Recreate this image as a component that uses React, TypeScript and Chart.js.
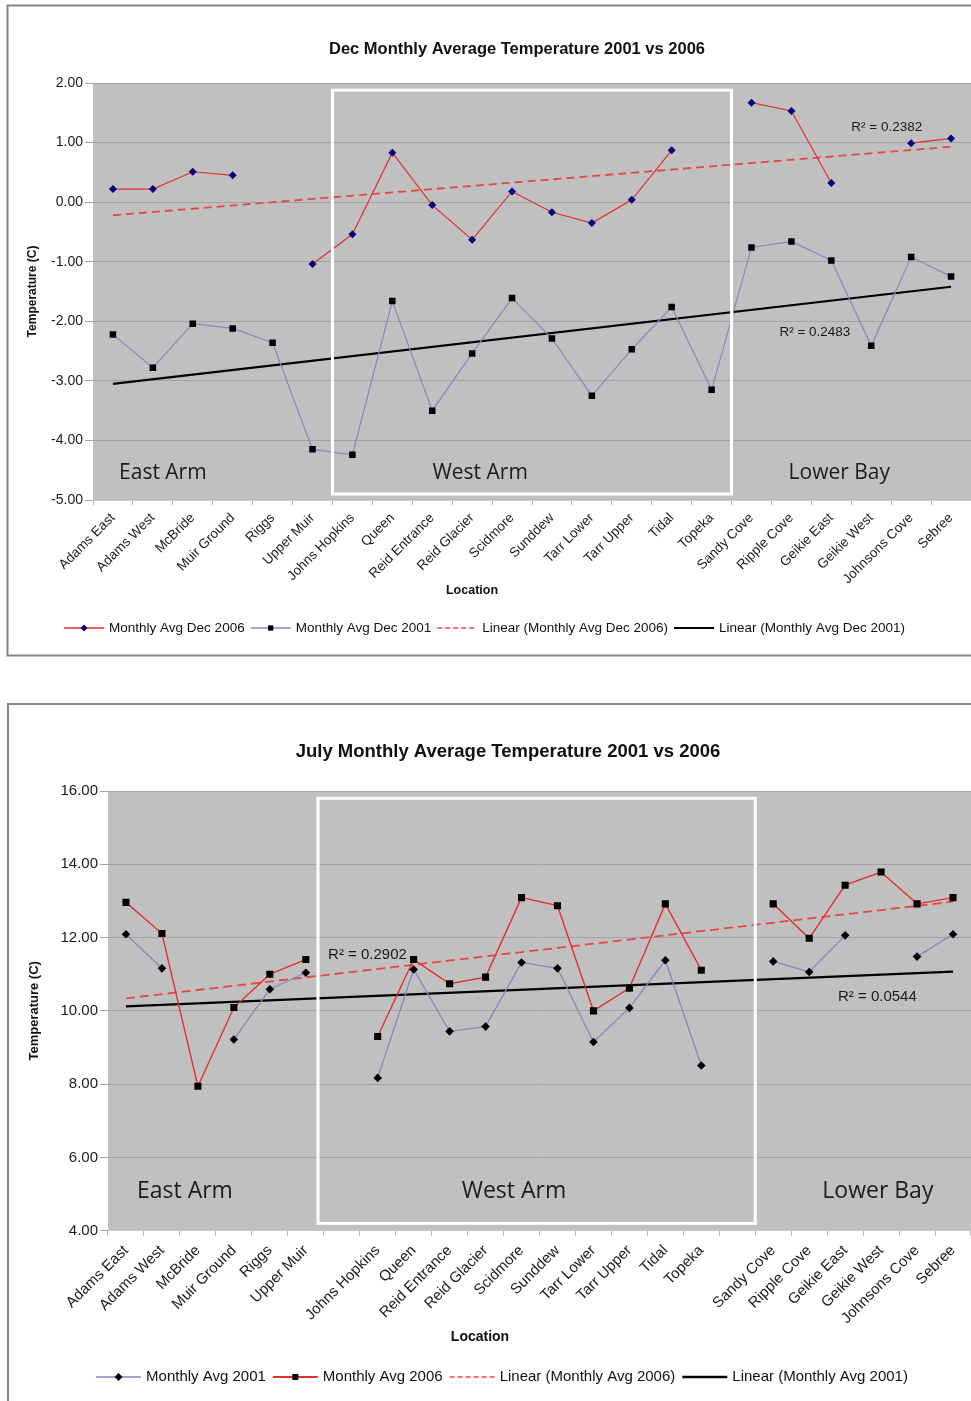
import { useEffect, useRef } from 'react';
import { Chart, registerables } from 'chart.js';

Chart.register(...registerables);

// ---------------- DATA ----------------
const decLocations = [
  'Adams East', 'Adams West', 'McBride', 'Muir Ground', 'Riggs', 'Upper Muir',
  'Johns Hopkins', 'Queen', 'Reid Entrance', 'Reid Glacier', 'Scidmore', 'Sunddew',
  'Tarr Lower', 'Tarr Upper', 'Tidal', 'Topeka', 'Sandy Cove', 'Ripple Cove',
  'Geikie East', 'Geikie West', 'Johnsons Cove', 'Sebree',
];
const decAvg2006 = [0.22, 0.22, 0.51, 0.45, null, -1.04, -0.54, 0.83, -0.05, -0.63, 0.18, -0.17, -0.35, 0.04, 0.87, null, 1.67, 1.53, 0.32, null, 0.99, 1.07];
const decAvg2001 = [-2.22, -2.78, -2.04, -2.12, -2.36, -4.15, -4.24, -1.66, -3.5, -2.54, -1.61, -2.29, -3.25, -2.47, -1.76, -3.15, -0.76, -0.66, -0.98, -2.41, -0.92, -1.25];
const decTrend2006Ends = [-0.22, 0.93];
const decTrend2001Ends = [-3.05, -1.42];
const decR2 = ['R² = 0.2382', 'R² = 0.2483'];
const decYRange = [-5, 2, 1];

const julyLocations = [
  'Adams East', 'Adams West', 'McBride', 'Muir Ground', 'Riggs', 'Upper Muir', '',
  'Johns Hopkins', 'Queen', 'Reid Entrance', 'Reid Glacier', 'Scidmore', 'Sunddew',
  'Tarr Lower', 'Tarr Upper', 'Tidal', 'Topeka', '', 'Sandy Cove', 'Ripple Cove',
  'Geikie East', 'Geikie West', 'Johnsons Cove', 'Sebree',
];
const julyAvg2001 = [12.09, 11.16, null, 9.22, 10.59, 11.04, null, 8.17, 11.13, 9.44, 9.57, 11.32, 11.16, 9.15, 10.08, 11.38, 8.51, null, 11.35, 11.06, 12.06, null, 11.48, 12.09];
const julyAvg2006 = [12.96, 12.11, 7.94, 10.09, 11.0, 11.4, null, 9.3, 11.4, 10.74, 10.92, 13.09, 12.87, 10.0, 10.62, 12.92, 11.11, null, 12.92, 11.98, 13.43, 13.79, 12.92, 13.09];
const julyTrend2006Ends = [10.34, 12.98];
const julyTrend2001Ends = [10.12, 11.07];
const julyR2 = ['R² = 0.2902', 'R² = 0.0544'];
const julyYRange = [4, 16, 2];

const regionNames = ['East Arm', 'West Arm', 'Lower Bay'];

// ---------------- STYLE ----------------
const SANS = '"Liberation Sans", Arial, sans-serif';
const RED = '#e3302f';
const BLUE = '#8686c6';
const NAVY = '#000080';

type LegendItem = { label: string; color: string; width: number; dash?: number[]; marker?: 'diamond' | 'square'; markerColor?: string; markerSize?: number };

function drawMarker(ctx: CanvasRenderingContext2D, kind: string, x: number, y: number, s: number, color: string) {
  ctx.fillStyle = color;
  ctx.beginPath();
  if (kind === 'diamond') {
    ctx.moveTo(x, y - s);
    ctx.lineTo(x + s, y);
    ctx.lineTo(x, y + s);
    ctx.lineTo(x - s, y);
    ctx.closePath();
  } else {
    ctx.rect(x - s * 0.75, y - s * 0.75, s * 1.5, s * 1.5);
  }
  ctx.fill();
}

function makeSpec(kind: 'dec' | 'july') {
  if (kind === 'dec') {
    const labels = decLocations;
    const last = labels[labels.length - 1];
    return {
      height: 660,
      plotTop: 83,
      plotLeft: 93,
      xHeight: 90,
      padBottom: 70,
      yMin: decYRange[0], yMax: decYRange[1], yStep: decYRange[2],
      labels,
      datasets: [
        { label: 'Monthly Avg Dec 2006', data: decAvg2006, borderColor: RED, borderWidth: 1.2, pointStyle: 'rectRot', pointRadius: 4, pointBackgroundColor: NAVY, pointBorderColor: NAVY, pointBorderWidth: 0 },
        { label: 'Monthly Avg Dec 2001', data: decAvg2001, borderColor: BLUE, borderWidth: 1.2, pointStyle: 'rect', pointRadius: 4.6, pointBackgroundColor: '#000', pointBorderColor: '#000', pointBorderWidth: 0 },
        { label: 'Linear (Monthly Avg Dec 2006)', data: [{ x: labels[0], y: decTrend2006Ends[0] }, { x: last, y: decTrend2006Ends[1] }], borderColor: '#e84545', borderWidth: 1.8, borderDash: [8, 5], pointRadius: 0 },
        { label: 'Linear (Monthly Avg Dec 2001)', data: [{ x: labels[0], y: decTrend2001Ends[0] }, { x: last, y: decTrend2001Ends[1] }], borderColor: '#000', borderWidth: 2.2, pointRadius: 0 },
      ],
      tickFont: 14, xTickFont: 13.5, xTickPad: 5,
      yTitle: 'Temperature (C)', yTitleFont: 12, yTitlePad: 25,
      box: { x: 7.5, y: 5.5, w: 980, h: 650 },
      title: { text: 'Dec Monthly Average Temperature 2001 vs 2006', x: 517, y: 49, size: 16.5 },
      xTitle: { text: 'Location', x: 472, y: 591, size: 12.5 },
      rect: { x0: 5.5, x1: 15.5, y0: 1.88, y1: -4.9 },
      regions: [
        { text: regionNames[0], x: 1.25, y: -4.54 },
        { text: regionNames[1], x: 9.2, y: -4.54 },
        { text: regionNames[2], x: 18.2, y: -4.54 },
      ],
      regionFont: 21,
      r2: [
        { text: decR2[0], x: 18.5, y: 1.25 },
        { text: decR2[1], x: 16.7, y: -2.19 },
      ],
      r2Font: 13.5,
      legend: {
        cx: 484.5, y: 628, size: 13.5, lineLen: 40, gap: 5, itemGap: 6,
        items: [
          { label: 'Monthly Avg Dec 2006', color: RED, width: 1.5, marker: 'diamond', markerColor: NAVY, markerSize: 3.5 },
          { label: 'Monthly Avg Dec 2001', color: BLUE, width: 1.5, marker: 'square', markerColor: '#000', markerSize: 3.5 },
          { label: 'Linear (Monthly Avg Dec 2006)', color: '#e84545', width: 1.5, dash: [5, 3] },
          { label: 'Linear (Monthly Avg Dec 2001)', color: '#000', width: 2.2 },
        ] as LegendItem[],
      },
    };
  }
  const labels = julyLocations;
  const last = labels[labels.length - 1];
  return {
    height: 703,
    plotTop: 93,
    plotLeft: 108,
    xHeight: 100,
    padBottom: 70.3,
    yMin: julyYRange[0], yMax: julyYRange[1], yStep: julyYRange[2],
    labels,
    datasets: [
      { label: 'Monthly Avg 2001', data: julyAvg2001, borderColor: BLUE, borderWidth: 1.3, pointStyle: 'rectRot', pointRadius: 4.3, pointBackgroundColor: '#000', pointBorderColor: '#000', pointBorderWidth: 0 },
      { label: 'Monthly Avg 2006', data: julyAvg2006, borderColor: RED, borderWidth: 1.4, pointStyle: 'rect', pointRadius: 5, pointBackgroundColor: '#000', pointBorderColor: '#000', pointBorderWidth: 0 },
      { label: 'Linear (Monthly Avg 2006)', data: [{ x: labels[0], y: julyTrend2006Ends[0] }, { x: last, y: julyTrend2006Ends[1] }], borderColor: '#e84545', borderWidth: 1.8, borderDash: [9, 5], pointRadius: 0 },
      { label: 'Linear (Monthly Avg 2001)', data: [{ x: labels[0], y: julyTrend2001Ends[0] }, { x: last, y: julyTrend2001Ends[1] }], borderColor: '#000', borderWidth: 2.3, pointRadius: 0 },
    ],
    tickFont: 15, xTickFont: 15, xTickPad: 6,
    yTitle: 'Temperature (C)', yTitleFont: 13, yTitlePad: 27,
    box: { x: 8, y: 6, w: 980, h: 720 },
    title: { text: 'July Monthly Average Temperature 2001 vs 2006', x: 508, y: 54, size: 18.5 },
    xTitle: { text: 'Location', x: 480, y: 639, size: 14 },
    rect: { x0: 5.34, x1: 17.5, y0: 15.8, y1: 4.2 },
    regions: [
      { text: regionNames[0], x: 1.64, y: 5.08 },
      { text: regionNames[1], x: 10.79, y: 5.08 },
      { text: regionNames[2], x: 20.91, y: 5.08 },
    ],
    regionFont: 23,
    r2: [
      { text: julyR2[0], x: 5.62, y: 11.52 },
      { text: julyR2[1], x: 19.8, y: 10.38 },
    ],
    r2Font: 15,
    legend: {
      cx: 502, y: 679, size: 15, lineLen: 45, gap: 5, itemGap: 7,
      items: [
        { label: 'Monthly Avg 2001', color: BLUE, width: 1.5, marker: 'diamond', markerColor: '#000', markerSize: 4 },
        { label: 'Monthly Avg 2006', color: RED, width: 1.8, marker: 'square', markerColor: '#000', markerSize: 4 },
        { label: 'Linear (Monthly Avg 2006)', color: '#e84545', width: 1.5, dash: [5, 3] },
        { label: 'Linear (Monthly Avg 2001)', color: '#000', width: 2.3 },
      ] as LegendItem[],
    },
  };
}

function buildChart(canvas: HTMLCanvasElement, spec: any) {
  const decor = {
    id: 'decor',
    beforeDraw(chart: any) {
      const { ctx, chartArea: a } = chart;
      ctx.save();
      ctx.fillStyle = '#ffffff';
      ctx.fillRect(0, 0, chart.width, chart.height);
      ctx.strokeStyle = '#858585';
      ctx.lineWidth = 2;
      ctx.strokeRect(spec.box.x, spec.box.y, spec.box.w, spec.box.h);
      ctx.fillStyle = '#c0c0c0';
      ctx.fillRect(a.left, a.top, a.right - a.left, a.bottom - a.top);
      ctx.strokeStyle = '#dcdcdc';
      ctx.lineWidth = 1;
      ctx.beginPath();
      ctx.moveTo(a.left, a.top + 0.5);
      ctx.lineTo(a.right, a.top + 0.5);
      ctx.stroke();
      ctx.restore();
    },
    afterDatasetsDraw(chart: any) {
      const { ctx } = chart;
      const xs = chart.scales.x;
      const ys = chart.scales.y;
      ctx.save();
      const rx0 = xs.getPixelForValue(spec.rect.x0);
      const rx1 = xs.getPixelForValue(spec.rect.x1);
      const ry0 = ys.getPixelForValue(spec.rect.y0);
      const ry1 = ys.getPixelForValue(spec.rect.y1);
      ctx.strokeStyle = '#ffffff';
      ctx.lineWidth = 3;
      ctx.strokeRect(rx0, ry0, rx1 - rx0, ry1 - ry0);
      ctx.fillStyle = '#1c1c1c';
      ctx.font = `${spec.regionFont}px "Open Sans", "Noto Sans", sans-serif`;
      ctx.textAlign = 'center';
      ctx.textBaseline = 'middle';
      for (const r of spec.regions) {
        ctx.fillText(r.text, xs.getPixelForValue(r.x), ys.getPixelForValue(r.y));
      }
      ctx.font = `${spec.r2Font}px ${SANS}`;
      ctx.textAlign = 'left';
      ctx.fillStyle = '#1a1a1a';
      for (const r of spec.r2) {
        ctx.fillText(r.text, xs.getPixelForValue(r.x), ys.getPixelForValue(r.y));
      }
      ctx.restore();
    },
    afterDraw(chart: any) {
      const { ctx } = chart;
      ctx.save();
      ctx.fillStyle = '#111';
      ctx.textAlign = 'center';
      ctx.textBaseline = 'middle';
      ctx.font = `bold ${spec.title.size}px ${SANS}`;
      ctx.fillText(spec.title.text, spec.title.x, spec.title.y);
      ctx.font = `bold ${spec.xTitle.size}px ${SANS}`;
      ctx.fillText(spec.xTitle.text, spec.xTitle.x, spec.xTitle.y);
      const lg = spec.legend;
      ctx.font = `${lg.size}px ${SANS}`;
      const widths = lg.items.map((it: LegendItem) => ctx.measureText(it.label).width);
      let total = 0;
      lg.items.forEach((_: any, i: number) => {
        total += lg.lineLen + lg.gap + widths[i];
        if (i < lg.items.length - 1) total += lg.itemGap;
      });
      let x = lg.cx - total / 2;
      lg.items.forEach((it: LegendItem, i: number) => {
        ctx.save();
        ctx.strokeStyle = it.color;
        ctx.lineWidth = it.width;
        ctx.setLineDash(it.dash || []);
        ctx.beginPath();
        ctx.moveTo(x, lg.y);
        ctx.lineTo(x + lg.lineLen, lg.y);
        ctx.stroke();
        ctx.restore();
        if (it.marker) drawMarker(ctx, it.marker, x + lg.lineLen / 2, lg.y, it.markerSize || 3.5, it.markerColor || '#000');
        x += lg.lineLen + lg.gap;
        ctx.fillStyle = '#111';
        ctx.textAlign = 'left';
        ctx.fillText(it.label, x, lg.y);
        x += widths[i] + lg.itemGap;
      });
      ctx.restore();
    },
  };

  return new Chart(canvas, {
    type: 'line',
    data: {
      labels: spec.labels,
      datasets: spec.datasets.map((d: any) => ({ ...d, tension: 0, fill: false, spanGaps: false })),
    },
    options: {
      responsive: false,
      animation: false,
      layout: { autoPadding: false, padding: { top: spec.plotTop, bottom: spec.padBottom, left: 0, right: 0 } },
      plugins: {
        legend: { display: false },
        title: { display: false },
        tooltip: { enabled: false },
      },
      scales: {
        x: {
          type: 'category',
          offset: true,
          grid: { display: true, offset: true, drawOnChartArea: false, drawTicks: true, tickLength: 5, color: '#b5b5b5' },
          border: { display: true, color: '#c8c8c8' },
          ticks: { autoSkip: false, maxRotation: 45, minRotation: 45, padding: spec.xTickPad, color: '#1a1a1a', font: { family: SANS, size: spec.xTickFont } },
          afterFit: (s: any) => { s.height = spec.xHeight; s.paddingRight = 0; s.paddingLeft = 0; },
        },
        y: {
          min: spec.yMin,
          max: spec.yMax,
          grid: { color: '#a3a3a3', tickLength: 8, lineWidth: 1 },
          border: { display: false },
          ticks: { stepSize: spec.yStep, padding: 2, color: '#1a1a1a', font: { family: SANS, size: spec.tickFont }, callback: (v: any) => Number(v).toFixed(2) },
          title: { display: true, text: spec.yTitle, color: '#111', font: { family: SANS, size: spec.yTitleFont, weight: 'bold' }, padding: { top: spec.yTitlePad, bottom: 0 } },
          afterFit: (s: any) => { s.width = spec.plotLeft; s.paddingTop = 0; s.paddingBottom = 0; },
        },
      },
    },
    plugins: [decor],
  } as any);
}

function TempChart({ kind, top }: { kind: 'dec' | 'july'; top: number }) {
  const ref = useRef<HTMLCanvasElement>(null);
  const spec = makeSpec(kind);
  useEffect(() => {
    const chart = buildChart(ref.current as HTMLCanvasElement, makeSpec(kind));
    return () => chart.destroy();
  }, [kind]);
  return (
    <canvas
      ref={ref}
      width={971}
      height={spec.height}
      style={{ position: 'absolute', left: 0, top, width: 971, height: spec.height, display: 'block' }}
    />
  );
}

export default function App() {
  return (
    <div>
      <TempChart kind="dec" top={0} />
      <TempChart kind="july" top={698} />
    </div>
  );
}
